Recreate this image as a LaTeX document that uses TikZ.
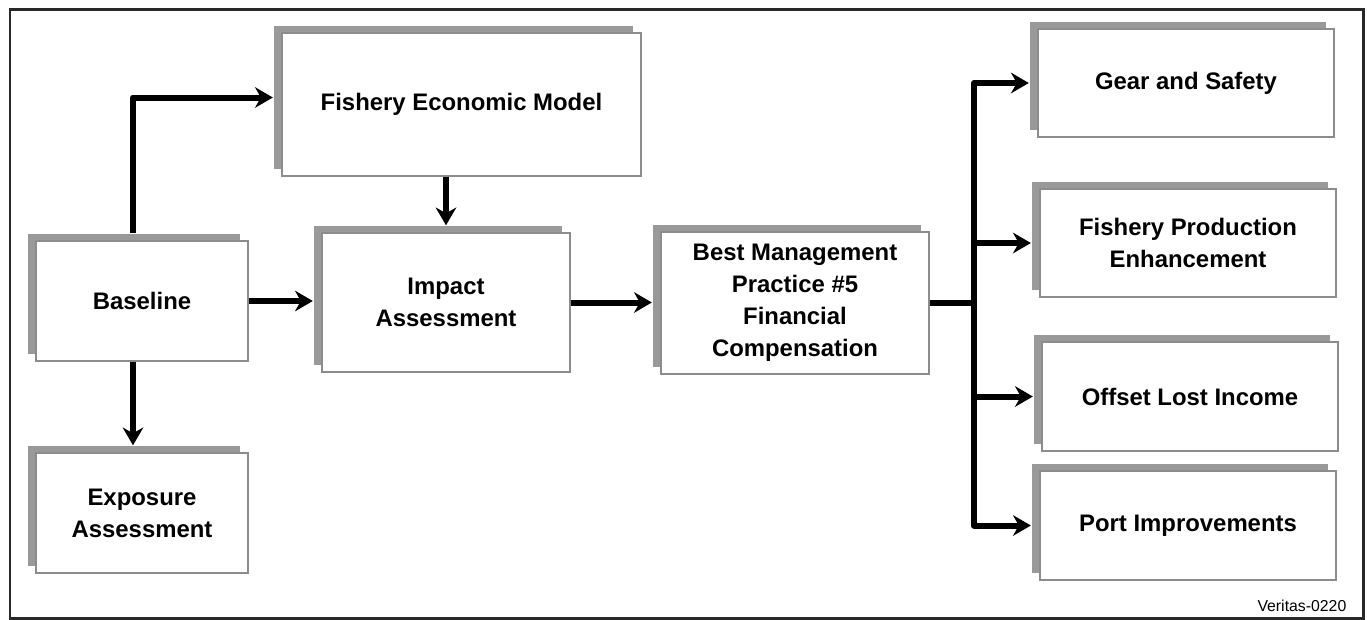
\documentclass[tikz,border=0pt]{standalone}
\usepackage{fontspec}
\setmainfont{Liberation Sans}
\usetikzlibrary{arrows.meta, positioning, shadows}
\definecolor{shadowgray}{RGB}{153,153,153}
\definecolor{boxgray}{RGB}{140,140,140}
\definecolor{framegray}{RGB}{40,40,40}

\begin{document}
\begin{tikzpicture}[
    box/.style={rectangle, draw=boxgray, line width=0.8pt, fill=white, align=center, inner sep=0pt,
        font=\fontsize{13.6}{18.3}\selectfont\bfseries,
        drop shadow={shadow xshift=-0.17cm, shadow yshift=0.14cm, fill=shadowgray, opacity=1}},
    link/.style={line width=0.12cm, line join=round},
    arr/.style={link, -{Stealth[length=0.36cm, width=0.42cm, inset=0.12cm, line width=0pt]}}
]
    % 背景和外框
    \path[use as bounding box, fill=white] (0,0) rectangle (27.34,-12.38);
    \draw[framegray, line width=0.06cm] (0.2,-0.18) rectangle (27.26,-12.36);

    % 左边和中间的框
    \node[box, minimum width=4.24cm, minimum height=2.4cm] (base) at (2.84,-6.02) {Baseline};
    \node[box, minimum width=4.24cm, minimum height=2.4cm] (expo) at (2.84,-10.26) {Exposure\\Assessment};
    \node[box, minimum width=7.18cm, minimum height=2.86cm] (econ) at (9.23,-2.09) {Fishery Economic Model};
    \node[box, minimum width=4.96cm, minimum height=2.78cm] (impact) at (8.92,-6.05) {Impact\\Assessment};
    \node[box, minimum width=5.36cm, minimum height=2.84cm] (bmp) at (15.90,-6.06) {Best Management\\Practice \#5\\Financial\\Compensation};

    % 右边四个框
    \node[box, minimum width=5.92cm, minimum height=2.16cm] (gear) at (23.72,-1.66) {Gear and Safety};
    \node[box, minimum width=5.92cm, minimum height=2.16cm] (prod) at (23.76,-4.86) {Fishery Production\\Enhancement};
    \node[box, minimum width=5.92cm, minimum height=2.18cm] (offset) at (23.80,-7.93) {Offset Lost Income};
    \node[box, minimum width=5.92cm, minimum height=2.18cm] (port) at (23.76,-10.51) {Port Improvements};

    % 箭头
    \draw[arr] ([shift={(-0.18,0.14)}]base.north) |- ([shift={(-0.17,0.14)}]econ.west);
    \draw[arr] (econ.south -| impact.north) -- ([yshift=0.14cm]impact.north);
    \draw[arr] (base.east) -- ([xshift=-0.17cm]base.east -| impact.west);
    \draw[arr] ([xshift=-0.18cm]base.south) -- ([shift={(-0.18,0.14)}]expo.north);
    \draw[arr] (impact.east) -- ([xshift=-0.17cm]impact.east -| bmp.west);

    % 分支
    \coordinate (bus) at (19.48,-6.06);
    \draw[link] (bmp.east) -- (bus);
    \draw[arr] (bus |- port.west) |- ([xshift=-0.17cm]gear.west);
    \draw[arr] (bus) |- ([xshift=-0.17cm]port.west);
    \foreach \n in {prod,offset} {
        \draw[arr] (bus |- \n.west) -- ([xshift=-0.17cm]\n.west);
    }

    \node[anchor=east, font=\fontsize{9}{11}\selectfont] (tag) at (27.05,-12.12) {Veritas-0220};
\end{tikzpicture}
\end{document}
